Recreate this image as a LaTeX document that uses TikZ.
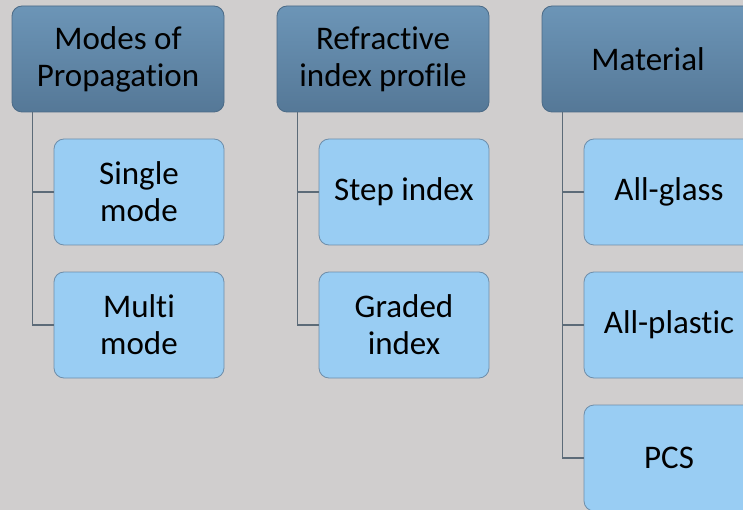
\documentclass[tikz,border=0pt]{standalone}
\usepackage{fontspec}
\setmainfont{Carlito}[Ligatures={NoCommon}]
\definecolor{pagegray}{HTML}{D0CECE}
\definecolor{headtop}{HTML}{6C95B7}
\definecolor{headbot}{HTML}{557897}
\definecolor{headline}{HTML}{4B6A86}
\definecolor{leaffill}{HTML}{99CDF3}
\definecolor{leafline}{HTML}{6E8EAA}
\definecolor{wire}{HTML}{5C6B78}
\tikzset{
  headbox/.style={draw=headline, line width=0.8pt, rounded corners=10pt, top color=headtop, bottom color=headbot,
    minimum width=212pt, minimum height=106pt, align=center, font=\fontsize{33}{37}\selectfont},
  leafbox/.style={draw=leafline, line width=0.8pt, rounded corners=10pt, fill=leaffill,
    minimum width=170pt, minimum height=106pt, align=center, font=\fontsize{33}{37}\selectfont},
  wireline/.style={draw=wire, line width=1.2pt}
}
\begin{document}
\begin{tikzpicture}[x=1pt,y=-1pt]
                      \fill[pagegray] (0,0) rectangle (743,510);
                      \useasboundingbox (0,0) rectangle (743,510);
                      \clip (0,0) rectangle (743,510);
                      % headers
                      \node[headbox] (modes) at (118,59) {Modes of\\Propagation};
                      \node[headbox] (profile) at (383,59) {Refractive\\index profile};
                      \node[headbox] (material) at (648,59) {Material};
                      % leaves
                      \node[leafbox] (single) at (139,192) {Single\\mode};
                      \node[leafbox] (multi) at (139,325) {Multi\\mode};
                      \node[leafbox] (step) at (404,192) {Step index};
                      \node[leafbox] (graded) at (404,325) {Graded\\index};
                      \node[leafbox] (glass) at (669,192) {All-glass};
                      \node[leafbox] (plastic) at (669,325) {All-plastic};
                      \node[leafbox] (pcs) at (669,458) {PCS};
                      % connectors
                      \draw[wireline] ([xshift=21pt]modes.south west) |- (single.west);
                      \draw[wireline] ([xshift=21pt]modes.south west) |- (multi.west);
                      \draw[wireline] ([xshift=21pt]profile.south west) |- (step.west);
                      \draw[wireline] ([xshift=21pt]profile.south west) |- (graded.west);
                      \draw[wireline] ([xshift=21pt]material.south west) |- (glass.west);
                      \draw[wireline] ([xshift=21pt]material.south west) |- (plastic.west);
                      \draw[wireline] ([xshift=21pt]material.south west) |- (pcs.west);
\end{tikzpicture}
\end{document}
